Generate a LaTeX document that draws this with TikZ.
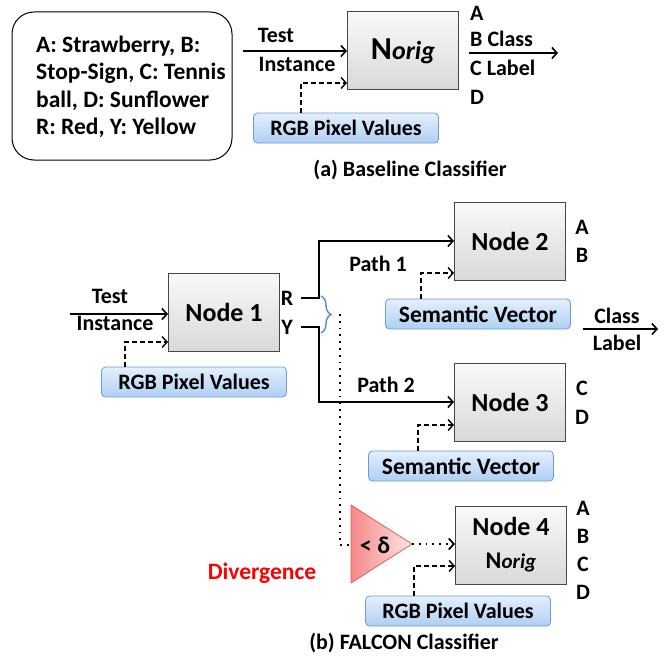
\documentclass[tikz,border=0pt]{standalone}
\usepackage{fontspec}
\setmainfont{Carlito}
\usetikzlibrary{arrows.meta,decorations.pathreplacing}
\definecolor{rimgray}{RGB}{70,70,70}
\definecolor{featrim}{RGB}{110,155,215}
\definecolor{feattop}{RGB}{228,239,252}
\definecolor{featbot}{RGB}{175,207,243}
\definecolor{bracecol}{RGB}{85,140,210}
\definecolor{tririm}{RGB}{225,95,95}
\definecolor{trileft}{RGB}{245,135,135}
\definecolor{triright}{RGB}{255,230,230}
\begin{document}
\begin{tikzpicture}[x=1pt,y=-1pt,
  every node/.style={font=\bfseries\fontsize{22}{26}\selectfont,inner sep=0pt},
  blk/.style={draw=rimgray,line width=1pt,top color=gray!5,bottom color=gray!30,minimum width=111pt,minimum height=78pt,font=\bfseries\fontsize{26}{30}\selectfont},
  feat/.style={draw=featrim,line width=0.8pt,rounded corners=4pt,top color=feattop,bottom color=featbot,minimum width=185pt,minimum height=30pt},
  flow/.style={line width=1.6pt,-{Straight Barb[length=5pt,width=11pt]}},
  dflow/.style={line width=1.4pt,dash pattern=on 5pt off 3pt,-{Straight Barb[length=5pt,width=11pt]}},
  dotline/.style={line width=1.8pt,dash pattern=on 1.8pt off 5pt}]
\useasboundingbox (0,0) rectangle (671,658);
% (a) baseline
\node[draw,line width=1pt,rounded corners=22pt,minimum width=220pt,minimum height=148pt] (legend) at (122,86) {};
\node[anchor=west,align=left,font=\bfseries\fontsize{23.5}{27.5}\selectfont] (legendtxt) at (36,87) {A: Strawberry, B:\\Stop-Sign, C: Tennis\\ball, D: Sunflower\\R: Red, Y: Yellow};
\node[blk] (norig) at (403,51) {\fontsize{32}{32}\selectfont N\fontsize{26}{26}\selectfont\itshape orig};
\coordinate (tinA) at (243,51);
\draw[flow] (tinA) -- (norig.west |- tinA);
\node (testA) at (276,35) {Test};
\node (instA) at (297,64) {Instance};
\node[feat] (rgbA) at (346,128) {RGB Pixel Values};
\draw[dflow] ([xshift=-45pt]rgbA.north) |- ([yshift=-32pt]norig.west);
\node[anchor=west] (aA) at (470,13) {A};
\node[anchor=west] (aB) at (470,39) {B Class};
\node[anchor=west] (aC) at (470,68) {C Label};
\node[anchor=west] (aD) at (470,97) {D};
\coordinate (outA) at (469,53);
\coordinate (outAend) at (558,53);
\draw[flow] (outA) -- (outAend);
\node (capA) at (410,170) {(a) Baseline Classifier};
% (b) falcon
\node[blk] (node1) at (224,312) {Node 1};
\coordinate (tinB) at (70,314);
\draw[flow] (tinB) -- (node1.west |- tinB);
\node (testB) at (110,296) {Test};
\node (instB) at (115,323) {Instance};
\node[feat] (rgbB) at (194,382) {RGB Pixel Values};
\draw[dflow] ([xshift=-69pt]rgbB.north) |- ([yshift=-30pt]node1.west);
\node (rlab) at (287,298) {R};
\node (ylab) at (287,327) {Y};
\node[blk] (node2) at (510,241) {Node 2};
\node[blk] (node3) at (510,402) {Node 3};
\node[blk,align=center,font=\bfseries\fontsize{26}{33}\selectfont] (node4) at (511,545) {Node 4\\{\fontsize{24}{33}\selectfont N\fontsize{21}{33}\selectfont\itshape orig}};
\coordinate (rout) at (301,298);
\coordinate (yout) at (301,327);
\draw[flow] (rout) -- ++(18,0) |- (node2.west);
\draw[flow] (yout) -- ++(18,0) |- (node3.west);
\node (path1) at (378,264) {Path 1};
\node (path2) at (386,385) {Path 2};
\coordinate (btop) at (321,296);
\coordinate (bbot) at (321,333);
\coordinate (btip) at (340,314);
\draw[bracecol,line width=1.4pt,decorate,decoration={brace,amplitude=10pt}] (btop) -- (bbot);
\node[feat,font=\bfseries\fontsize{23.5}{26}\selectfont] (semA) at (478,314) {Semantic Vector};
\draw[dflow] ([xshift=-57pt]semA.north) |- ([yshift=-32pt]node2.west);
\node[feat,font=\bfseries\fontsize{23.5}{26}\selectfont] (semB) at (461,466) {Semantic Vector};
\draw[dflow] ([xshift=-43pt]semB.north) |- ([yshift=-23pt]node3.west);
\node[feat] (rgbC) at (458,611) {RGB Pixel Values};
\draw[dflow] ([xshift=-44pt]rgbC.north) |- ([yshift=-21pt]node4.west);
\node (bA) at (582,227) {A};
\node (bB) at (582,255) {B};
\node (cC) at (582,388) {C};
\node (cD) at (582,417) {D};
\node (dA) at (583,508) {A};
\node (dB) at (583,536) {B};
\node (dC) at (583,564) {C};
\node (dD) at (583,592) {D};
\node (clsB) at (617,316) {Class};
\node (lblB) at (617,343) {Label};
\coordinate (outB) at (583,329);
\coordinate (outBend) at (658,329);
\draw[flow] (outB) -- (outBend);
% divergence check
\coordinate (tritop) at (351,505);
\coordinate (tribot) at (351,583);
\coordinate (trimid) at (351,545);
\coordinate (tritip) at (412,544);
\draw[draw=tririm,line width=0.8pt,left color=trileft,right color=triright] (tritop) -- (tritip) -- (tribot) -- cycle;
\node[font=\bfseries\fontsize{24}{26}\selectfont] (delta) at (375,545) {< δ};
\draw[dotline] (btip) |- (trimid);
\draw[dotline,-{Straight Barb[length=5pt,width=11pt]}] (tritip) -- (node4.west |- tritip);
\node[text=red,font=\bfseries\fontsize{23.5}{26}\selectfont] (diverg) at (262,573) {Divergence};
\node (capB) at (404,643) {(b) FALCON Classifier};
\end{tikzpicture}
\end{document}
